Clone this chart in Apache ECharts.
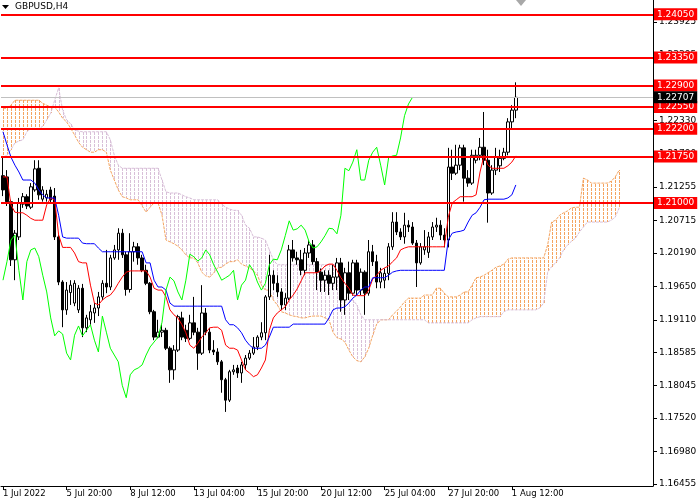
<!DOCTYPE html>
<html><head><meta charset="utf-8">
<script src="https://cdn.jsdelivr.net/npm/echarts@6/dist/echarts.min.js"></script>
<style>html,body{margin:0;padding:0;background:#fff}#c{width:700px;height:500px}</style>
</head><body><div id="c"></div>
<script>
// ---- data ----
const xTickLabels = ['1 Jul 2022','5 Jul 20:00','8 Jul 12:00','13 Jul 04:00','15 Jul 20:00','20 Jul 12:00','25 Jul 04:00','27 Jul 20:00','1 Aug 12:00'];
const xTickBars = [0,16,32,48,64,80,96,112,128];
const totalSlots = 164;
const yTickLabels = [1.16455,1.16980,1.17520,1.18045,1.18585,1.19110,1.19650,1.20190,1.20715,1.21255,1.21790,1.22330,1.22860,1.23395,1.23925];
const levels = [1.24050,1.23350,1.22900,1.22550,1.22200,1.21750,1.21000];
const lastPrice = 1.22707;

// [open, close, low, high]
const candles = [
[1.2144,1.2121,1.2111,1.2173],[1.2142,1.2102,1.2095,1.2153],[1.2102,1.2008,1.1998,1.2105],[1.2008,1.2051,1.1975,1.2056],
[1.2045,1.2100,1.2040,1.2108],[1.2098,1.2110,1.2092,1.2116],[1.2110,1.2095,1.2090,1.2114],[1.2093,1.2126,1.2090,1.2132],
[1.2121,1.2155,1.2118,1.2169],[1.2156,1.2113,1.2105,1.2169],[1.2106,1.2121,1.2102,1.2127],[1.2108,1.2114,1.2102,1.2121],
[1.2121,1.2105,1.2100,1.2126],[1.2111,1.2045,1.2040,1.2124],[1.2045,1.1972,1.1967,1.2048],[1.1972,1.1927,1.1899,1.1975],
[1.1927,1.1959,1.1919,1.1972],[1.1955,1.1967,1.1935,1.1975],[1.1938,1.1970,1.1933,1.1975],[1.1927,1.1962,1.1922,1.1967],
[1.1962,1.1898,1.1883,1.1969],[1.1898,1.1914,1.1891,1.1919],[1.1911,1.1924,1.1903,1.1935],[1.1922,1.1930,1.1906,1.1938],
[1.1930,1.1948,1.1917,1.1956],[1.1948,1.1970,1.1943,1.1975],[1.1970,1.1964,1.1954,1.2024],[1.1964,1.2011,1.1959,1.2016],
[1.2011,1.2024,1.2008,1.2032],[1.2024,1.2051,1.2008,1.2059],[1.2051,1.2016,1.2011,1.2058],[1.2016,1.1960,1.1950,1.2021],
[1.1960,1.2021,1.1955,1.2051],[1.2021,1.2029,1.2005,1.2037],[1.2029,1.2011,1.2000,1.2035],[1.2011,1.1991,1.1988,1.2016],
[1.1991,1.1970,1.1967,1.2000],[1.1970,1.1924,1.1920,1.1972],[1.1924,1.1883,1.1878,1.1927],[1.1883,1.1891,1.1881,1.1911],
[1.1891,1.1894,1.1883,1.1903],[1.1894,1.1865,1.1862,1.1898],[1.1865,1.1830,1.1809,1.1868],[1.1830,1.1862,1.1814,1.1870],
[1.1862,1.1916,1.1859,1.1919],[1.1914,1.1883,1.1878,1.1924],[1.1894,1.1881,1.1875,1.1903],[1.1881,1.1906,1.1878,1.1919],
[1.1906,1.1891,1.1886,1.1948],[1.1891,1.1857,1.1830,1.1898],[1.1857,1.1922,1.1854,1.1967],[1.1922,1.1891,1.1886,1.1930],
[1.1891,1.1862,1.1857,1.1898],[1.1862,1.1859,1.1854,1.1878],[1.1859,1.1843,1.1838,1.1865],[1.1843,1.1814,1.1793,1.1846],
[1.1814,1.1781,1.1762,1.1817],[1.1781,1.1827,1.1778,1.1830],[1.1827,1.1830,1.1822,1.1838],[1.1833,1.1825,1.1817,1.1838],
[1.1825,1.1838,1.1809,1.1843],[1.1838,1.1849,1.1830,1.1854],[1.1849,1.1857,1.1846,1.1862],[1.1857,1.1867,1.1854,1.1883],
[1.1867,1.1883,1.1862,1.1886],[1.1883,1.1890,1.1878,1.1907],[1.1890,1.1948,1.1878,1.1951],[1.1948,1.1983,1.1943,1.2016],
[1.1983,1.1970,1.1959,1.1991],[1.1970,1.1956,1.1948,1.1983],[1.1956,1.1935,1.1927,1.1962],[1.1935,1.1946,1.1927,1.1954],
[1.1946,1.2024,1.1943,1.2032],[1.2024,1.2011,1.2005,1.2040],[1.2011,1.2008,1.2000,1.2021],[1.2008,1.1991,1.1983,1.2024],
[1.1991,1.2019,1.1983,1.2027],[1.2019,1.2032,1.2011,1.2040],[1.2032,1.2005,1.2000,1.2040],[1.2005,1.1988,1.1959,1.2011],
[1.1988,1.1975,1.1956,1.1994],[1.1975,1.1983,1.1956,1.1991],[1.1983,1.1970,1.1951,1.1991],[1.1970,1.1980,1.1959,1.2000],
[1.1980,1.2003,1.1959,1.2011],[1.2003,1.1943,1.1924,1.2011],[1.1943,1.1987,1.1919,1.1995],[1.1987,1.1954,1.1943,1.2005],
[1.1954,1.2003,1.1950,1.2008],[1.2003,1.1959,1.1951,1.2008],[1.1959,1.1988,1.1951,1.1994],[1.1988,1.1954,1.1919,1.1991],
[1.1954,1.2021,1.1950,1.2040],[1.2021,1.2005,1.1998,1.2032],[1.2005,1.1972,1.1962,1.2016],[1.1972,1.1987,1.1962,1.1995],
[1.1975,1.1986,1.1962,1.1994],[1.1986,1.2029,1.1975,1.2035],[1.2029,1.2069,1.2024,1.2085],[1.2069,1.2053,1.2048,1.2085],
[1.2053,1.2045,1.2040,1.2059],[1.2045,1.2064,1.2034,1.2084],[1.2064,1.2061,1.2053,1.2072],[1.2061,1.2035,1.2032,1.2069],
[1.2035,1.2003,1.1964,1.2040],[1.2003,1.2029,1.2000,1.2035],[1.2024,1.2029,1.2016,1.2056],[1.2020,1.2045,1.2011,1.2053],
[1.2045,1.2061,1.2040,1.2069],[1.2061,1.2064,1.2053,1.2076],[1.2064,1.2048,1.2040,1.2072],[1.2048,1.2040,1.2028,1.2059],
[1.2040,1.2158,1.2028,1.2189],[1.2158,1.2148,1.2137,1.2186],[1.2148,1.2161,1.2145,1.2194],[1.2161,1.2189,1.2153,1.2194],
[1.2189,1.2140,1.2102,1.2194],[1.2140,1.2132,1.2126,1.2153],[1.2132,1.2177,1.2129,1.2186],[1.2169,1.2177,1.2164,1.2186],
[1.2177,1.2190,1.2169,1.2205],[1.2190,1.2169,1.2161,1.2247],[1.2169,1.2116,1.2068,1.2186],[1.2116,1.2153,1.2113,1.2161],
[1.2153,1.2174,1.2145,1.2189],[1.2160,1.2172,1.2150,1.2186],[1.2172,1.2182,1.2169,1.2189],[1.2182,1.2231,1.2177,1.2237],
[1.2231,1.2250,1.2221,1.2258],[1.2250,1.22707,1.2237,1.2295]
];

const tenkan = [
1.2142,1.2142,1.2097,1.2085,1.2084,1.2084,1.2080,1.2075,1.2072,1.2072,
1.2072,1.2097,1.2108,1.2105,1.2048,1.2028,1.2028,1.2028,1.2019,1.2005,
1.2003,1.2003,1.1967,1.1938,1.1935,1.1943,1.1948,1.1951,1.1959,1.1970,
1.1980,1.1988,1.1990,1.1990,1.1990,1.1990,1.1990,1.1980,1.1962,1.1959,
1.1959,1.1948,1.1927,1.1919,1.1914,1.1903,1.1890,1.1870,1.1865,1.1873,
1.1883,1.1890,1.1898,1.1899,1.1899,1.1894,1.1870,1.1865,1.1865,1.1862,
1.1846,1.1830,1.1825,1.1819,1.1822,1.1833,1.1846,1.1894,1.1914,1.1922,
1.1927,1.1932,1.1943,1.1951,1.1961,1.1974,1.1987,1.1987,1.1987,1.1987,
1.1991,1.1998,1.2001,1.2001,1.1991,1.1979,1.1970,1.1962,1.1951,1.1950,
1.1950,1.1950,1.1959,1.1977,1.1983,1.1991,1.1995,1.1998,1.2005,1.2011,
1.2024,1.2027,1.2029,1.2029,1.2029,1.2029,1.2029,1.2029,1.2029,1.2029,
1.2029,1.2029,1.2077,1.2100,1.2105,1.2110,1.2110,1.2110,1.2110,1.2113,
1.2150,1.2177,1.2161,1.2156,1.2156,1.2156,1.2156,1.2160,1.2166,1.2176
];

const kijun = [
1.2215,1.2194,1.2174,1.2161,1.2150,1.2137,1.2137,1.2137,1.2132,1.2121,
1.2113,1.2108,1.2108,1.2108,1.2080,1.2045,1.2043,1.2043,1.2043,1.2043,
1.2035,1.2034,1.2034,1.2034,1.2027,1.2021,1.2021,1.2021,1.2021,1.2021,
1.2021,1.2021,1.2021,1.2021,1.2021,1.2021,1.2003,1.2003,1.1975,1.1964,
1.1964,1.1959,1.1938,1.1933,1.1933,1.1933,1.1933,1.1933,1.1933,1.1933,
1.1933,1.1933,1.1933,1.1933,1.1933,1.1933,1.1911,1.1903,1.1903,1.1898,
1.1890,1.1878,1.1870,1.1865,1.1865,1.1865,1.1870,1.1883,1.1899,1.1899,
1.1899,1.1899,1.1899,1.1904,1.1904,1.1904,1.1904,1.1904,1.1904,1.1904,
1.1904,1.1904,1.1914,1.1927,1.1930,1.1930,1.1932,1.1938,1.1946,1.1951,
1.1959,1.1964,1.1964,1.1979,1.1979,1.1979,1.1979,1.1983,1.1988,1.1990,
1.1991,1.1991,1.1991,1.1991,1.1991,1.1991,1.1991,1.1991,1.1991,1.1991,
1.1991,1.1991,1.2040,1.2051,1.2053,1.2054,1.2056,1.2069,1.2080,1.2084,
1.2093,1.2105,1.2106,1.2106,1.2106,1.2106,1.2106,1.2108,1.2113,1.2129
];

const chikou = [
1.1975,1.2005,1.2040,1.2048,1.1991,1.1943,1.2005,1.2024,1.2027,1.2013,
1.1983,1.1956,1.1914,1.1885,1.1893,1.1888,1.1857,1.1846,1.1886,1.1901,
1.1885,1.1894,1.1903,1.1878,1.1859,1.1917,1.1891,1.1865,1.1854,1.1843,
1.1805,1.1785,1.1822,1.1830,1.1833,1.1838,1.1854,1.1867,1.1875,1.1883,
1.1907,1.1959,1.1980,1.1974,1.1956,1.1943,1.1975,1.2017,1.2013,1.2006,
1.2011,1.2024,1.2016,1.2000,1.1988,1.1975,1.1979,1.1983,1.1991,1.1943,
1.1967,1.1975,1.2000,1.1990,1.1972,1.1959,1.1970,1.2000,1.2009,1.2008,
1.2024,1.2047,1.2071,1.2056,1.2058,1.2064,1.2056,1.2037,1.2027,1.2029,
1.2037,1.2047,1.2059,1.2058,1.2050,1.2080,1.2156,1.2152,1.2166,1.2186,
1.2137,1.2137,1.2169,1.2182,1.2190,1.2161,1.2129,1.2173,1.2176,1.2177,
1.2205,1.2241,1.2260,1.22707
];

const spanA = [
1.2253,1.2253,1.2258,1.2266,1.2266,1.2266,1.2266,1.2266,1.2266,1.2266,
1.2261,1.2258,1.2255,1.2255,1.2247,1.2237,1.2231,1.2221,1.2210,1.2198,
1.2190,1.2186,1.2182,1.2182,1.2186,1.2186,1.2182,1.2153,1.2137,1.2121,
1.2110,1.2108,1.2105,1.2105,1.2105,1.2095,1.2085,1.2093,1.2100,1.2100,
1.2080,1.2040,1.2037,1.2034,1.2030,1.2024,1.2016,1.2011,1.2011,1.2003,
1.1988,1.1982,1.1980,1.1987,1.1995,1.1996,1.2001,1.2005,1.2005,1.2008,
1.2001,1.1998,1.1995,1.1990,1.1983,1.1967,1.1959,1.1959,1.1943,1.1935,
1.1924,1.1922,1.1919,1.1917,1.1916,1.1914,1.1914,1.1916,1.1917,1.1917,
1.1917,1.1914,1.1911,1.1891,1.1882,1.1880,1.1875,1.1862,1.1851,1.1845,
1.1843,1.1851,1.1865,1.1886,1.1904,1.1911,1.1911,1.1911,1.1919,1.1925,
1.1932,1.1940,1.1946,1.1946,1.1946,1.1946,1.1951,1.1951,1.1951,1.1962,
1.1962,1.1954,1.1948,1.1948,1.1948,1.1951,1.1956,1.1956,1.1967,1.1979,
1.1980,1.1983,1.1987,1.1991,1.1996,1.1998,1.2001,1.2009,1.2011,1.2011,
1.2011,1.2011,1.2011,1.2011,1.2011,1.2011,1.2011,1.2032,1.2069,1.2072,
1.2080,1.2084,1.2087,1.2092,1.2093,1.2093,1.2140,1.2137,1.2132,1.2132,
1.2132,1.2132,1.2132,1.2135,1.2142,1.2153
];

const spanB = [
1.2174,1.2177,1.2186,1.2197,1.2200,1.2202,1.2215,1.2220,1.2220,1.2220,
1.2224,1.2234,1.2245,1.2266,1.2286,1.2250,1.2234,1.2228,1.2218,1.2216,
1.2215,1.2215,1.2215,1.2215,1.2215,1.2215,1.2215,1.2202,1.2177,1.2161,
1.2156,1.2156,1.2156,1.2156,1.2156,1.2156,1.2156,1.2156,1.2156,1.2156,
1.2137,1.2118,1.2116,1.2116,1.2116,1.2113,1.2110,1.2108,1.2105,1.2105,
1.2105,1.2105,1.2105,1.2105,1.2105,1.2098,1.2093,1.2090,1.2088,1.2088,
1.2080,1.2064,1.2059,1.2045,1.2045,1.2043,1.2040,1.2024,1.2008,1.2000,
1.2000,1.2000,1.2000,1.2000,1.2000,1.2000,1.2000,1.2000,1.2000,1.2000,
1.2000,1.2000,1.2000,1.2000,1.2000,1.1967,1.1951,1.1943,1.1943,1.1935,
1.1919,1.1911,1.1911,1.1911,1.1911,1.1911,1.1911,1.1911,1.1911,1.1911,
1.1911,1.1911,1.1911,1.1911,1.1911,1.1911,1.1911,1.1906,1.1906,1.1906,
1.1906,1.1906,1.1906,1.1906,1.1906,1.1906,1.1906,1.1906,1.1911,1.1914,
1.1916,1.1916,1.1916,1.1916,1.1916,1.1916,1.1924,1.1927,1.1927,1.1927,
1.1927,1.1927,1.1927,1.1927,1.1927,1.1930,1.1938,1.1988,1.1997,1.2003,
1.2011,1.2024,1.2032,1.2038,1.2043,1.2053,1.2061,1.2069,1.2069,1.2069,
1.2069,1.2069,1.2069,1.2072,1.2077,1.2092
];

// ---- chart ----
const FONT = 'DejaVu Sans';
const BULL_CLOUD = '#F4A460', BEAR_CLOUD = '#D8BFD8';
const cats = Array.from({length: totalSlots}, (_, i) => String(i));
const bullCloud = [], bearCloud = [];
spanA.forEach((a, i) => {
  if (a >= spanB[i]) bullCloud.push([i, a, spanB[i]]);
  else bearCloud.push([i, a, spanB[i]]);
});

function cloudRenderer(color) {
  return function (params, api) {
    const i = api.value(0), a = api.value(1), b = api.value(2);
    const pa = api.coord([i, a]), pb = api.coord([i, b]);
    const x = Math.round(pa[0]);
    const y1 = Math.round(Math.min(pa[1], pb[1])), y2 = Math.round(Math.max(pa[1], pb[1]));
    const children = [];
    for (let y = Math.floor(y1 / 4) * 4; y < y2; y += 4) {
      const t = Math.max(y, y1), bt = Math.min(y + 3, y2);
      if (bt > t) children.push({type: 'rect', shape: {x: x, y: t, width: 1, height: bt - t},
        style: {fill: color, opacity: 1}});
    }
    return {type: 'group', children: children};
  };
}

const chart = echarts.init(document.getElementById('c'), null, {renderer: 'canvas'});
chart.setOption({
  animation: false,
  backgroundColor: '#ffffff',
  grid: {left: -2, right: 47, top: 0, bottom: 14, containLabel: false},
  xAxis: {
    type: 'category', data: cats, boundaryGap: true,
    axisLine: {show: true, lineStyle: {color: '#000', width: 1}},
    axisTick: {show: true, length: 4, alignWithLabel: true, lineStyle: {color: '#000'},
      interval: (idx) => xTickBars.indexOf(idx) >= 0},
    axisLabel: {
      interval: (idx) => xTickBars.indexOf(idx) >= 0,
      formatter: (v) => { const k = xTickBars.indexOf(+v); return k >= 0 ? xTickLabels[k] : ''; },
      align: 'left', margin: 3, color: '#000', fontFamily: FONT, fontSize: 8.5
    },
    splitLine: {show: false}
  },
  yAxis: {
    type: 'value', position: 'right', min: 1.16422, max: 1.24281, scale: true,
    axisLine: {show: true, lineStyle: {color: '#000', width: 1}},
    axisTick: {show: true, length: 4, customValues: yTickLabels, lineStyle: {color: '#000'}},
    axisLabel: {customValues: yTickLabels, formatter: (v) => v.toFixed(5), margin: 6,
      color: '#000', fontFamily: FONT, fontSize: 9},
    splitLine: {show: false}
  },
  graphic: [
    {type: 'polygon', shape: {points: [[2,5],[9,5],[5.5,9]]}, style: {fill: '#000'}, z: 100},
    {type: 'text', left: 15, top: 2, style: {text: 'GBPUSD,H4', fill: '#000', font: '9px "DejaVu Sans"'}, z: 100},
    {type: 'polygon', shape: {points: [[516,0],[526,0],[521,6]]}, style: {fill: '#a8a8a8'}, z: 100}
  ],
  series: [
    {type: 'custom', name: 'cloudUp', data: bullCloud, silent: true, z: 1,
      itemStyle: {color: BULL_CLOUD}, encode: {x: 0, y: [1, 2]}, renderItem: cloudRenderer(BULL_CLOUD)},
    {type: 'custom', name: 'cloudDown', data: bearCloud, silent: true, z: 1,
      itemStyle: {color: BEAR_CLOUD}, encode: {x: 0, y: [1, 2]}, renderItem: cloudRenderer(BEAR_CLOUD)},
    {type: 'line', name: 'SpanA', data: spanA, symbol: 'none', silent: true, z: 1,
      lineStyle: {color: BULL_CLOUD, width: 1, type: [3, 1]}},
    {type: 'line', name: 'SpanB', data: spanB, symbol: 'none', silent: true, z: 1,
      lineStyle: {color: BEAR_CLOUD, width: 1, type: [3, 1]}},
    {
      type: 'candlestick', name: 'GBPUSD', data: candles, barWidth: 3, z: 3,
      itemStyle: {color: '#ffffff', color0: '#000000', borderColor: '#000000', borderColor0: '#000000', borderWidth: 1}
    },
    {type: 'line', name: 'Tenkan', data: tenkan, symbol: 'none', silent: true, z: 4,
      lineStyle: {color: '#ff0000', width: 1}},
    {type: 'line', name: 'Kijun', data: kijun, symbol: 'none', silent: true, z: 4,
      lineStyle: {color: '#0000ff', width: 1}},
    {type: 'line', name: 'Chikou', data: chikou, symbol: 'none', silent: true, z: 4,
      lineStyle: {color: '#00ff00', width: 1}},
    {
      type: 'line', name: 'levels', data: [], z: 5, silent: true,
      markLine: {
        silent: true, symbol: ['none', 'none'], precision: 5, animation: false,
        data: levels.map(v => ({yAxis: v, lineStyle: {color: '#ff0000', width: 2, type: 'solid'},
            label: {backgroundColor: '#ff0000'}}))
          .concat([{yAxis: lastPrice, lineStyle: {color: '#c0c0c0', width: 1, type: 'solid'},
            label: {backgroundColor: '#000000'}}]),
        label: {show: true, position: 'end', distance: 1, formatter: (p) => Number(p.value).toFixed(5),
          color: '#ffffff', fontFamily: FONT, fontSize: 9, padding: [2, 3, 1, 3]}
      }
    }
  ]
});
</script>
</body></html>
